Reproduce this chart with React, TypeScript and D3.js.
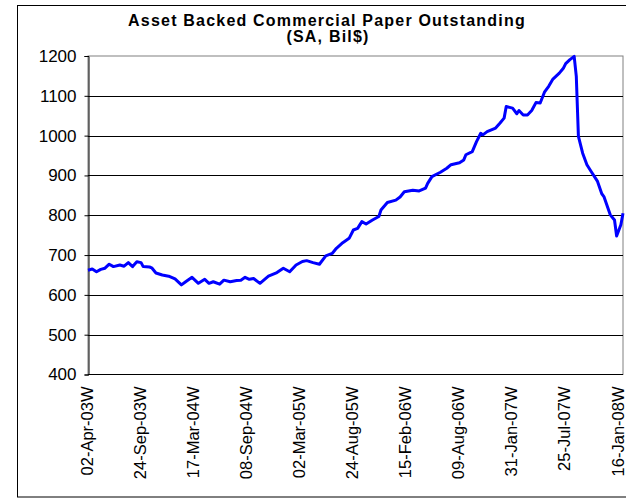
import React, { useEffect, useRef } from "react";
import * as d3 from "d3";

// weekly series, week index counted from 02-Apr-03
const weeks = [
  0, 2, 4, 6, 8, 10, 12, 15, 17, 19, 21, 23, 25, 26, 29, 30, 32, 35, 38, 41, 44, 46, 49, 52, 55, 57,
  59, 62, 64, 67, 70, 72, 74, 76, 78, 81, 85, 89, 92, 95, 98, 101, 103, 106, 109, 112, 115, 117, 120,
  123, 125, 127, 129, 131, 134, 137, 138, 141, 145, 147, 149, 153, 156, 159, 160, 162, 166, 169, 171,
  175, 177, 178, 181, 183, 185, 186, 188, 192, 194, 196, 197, 200, 202, 203, 205, 207, 209, 211, 213,
  215, 217, 219, 222, 224, 225, 227, 229, 230, 231, 233, 235, 237, 240, 242, 243, 246, 248, 249, 251,
  252,
];
const outstanding = [
  662, 665, 658, 664, 667, 677, 671, 675, 672, 681, 671, 683, 681, 671, 670, 668, 655, 650, 647, 640,
  625, 633, 644, 629, 639, 629, 633, 627, 637, 633, 636, 637, 644, 639, 641, 629, 647, 656, 667, 658,
  675, 684, 686, 681, 677, 698, 704, 717, 731, 742, 763, 767, 784, 778, 788, 797, 813, 832, 838, 846,
  859, 863, 861, 868, 880, 897, 908, 918, 927, 932, 939, 952, 960, 985, 1006, 1002, 1010, 1019, 1031,
  1044, 1073, 1069, 1055, 1063, 1052, 1052, 1063, 1083, 1082, 1109, 1124, 1142, 1157, 1170, 1181,
  1191, 1199, 1149, 998, 956, 927, 910, 885, 854, 847, 801, 788, 748, 776, 805,
];
const tickWeeks = [0, 25, 50, 75, 100, 125, 150, 175, 200, 225, 250];
const tickLabels = [
  "02-Apr-03W", "24-Sep-03W", "17-Mar-04W", "08-Sep-04W", "02-Mar-05W", "24-Aug-05W",
  "15-Feb-06W", "09-Aug-06W", "31-Jan-07W", "25-Jul-07W", "16-Jan-08W",
];
const yTicks = [400, 500, 600, 700, 800, 900, 1000, 1100, 1200];

const App = () => {
  const ref = useRef<SVGSVGElement>(null);

  useEffect(() => {
    const svg = d3.select(ref.current);
    svg.selectAll("*").remove();
    const font = "'Liberation Sans', Arial, sans-serif";

    // outer chart border
    svg.append("rect").attr("x", 17.5).attr("y", 5.5).attr("width", 620).attr("height", 491.5)
      .attr("fill", "#fff").attr("stroke", "#000");

    const left = 88, top = 56, right = 623, bottom = 374.5;
    const x = d3.scaleLinear().domain([0, 252]).range([left, right]);
    const y = d3.scaleLinear().domain([400, 1200]).range([bottom, top]);

    // plot area border
    svg.append("rect").attr("x", left).attr("y", top).attr("width", right - left).attr("height", bottom - top)
      .attr("fill", "none").attr("stroke", "#808080");

    svg.append("g").selectAll("line").data(yTicks.slice(1, -1)).join("line")
      .attr("x1", left).attr("x2", right)
      .attr("y1", (d) => Math.round(y(d)) + 0.5).attr("y2", (d) => Math.round(y(d)) + 0.5)
      .attr("stroke", "#000");

    // y axis
    const yAxis = svg.append("g").attr("transform", `translate(${left + 0.5},0)`)
      .call(d3.axisLeft(y).tickValues(yTicks).tickFormat(d3.format("d")).tickSize(4).tickPadding(8));
    yAxis.select(".domain").attr("stroke", "#000");
    yAxis.selectAll("text").attr("font-family", font).attr("font-size", 17).attr("fill", "#000");

    // x axis
    svg.append("line").attr("x1", left).attr("x2", right).attr("y1", bottom).attr("y2", bottom).attr("stroke", "#000");
    svg.append("g").selectAll("text").data(tickWeeks).join("text")
      .attr("transform", (d) => `translate(${x(d) - 1},${bottom + 12}) rotate(-90)`)
      .attr("text-anchor", "end").attr("dy", "0.35em")
      .attr("font-family", font).attr("font-size", 16.5)
      .text((d, i) => tickLabels[i]);

    // series
    const pts = weeks.map((w, i) => [w, outstanding[i]] as [number, number]);
    svg.append("path").datum(pts)
      .attr("d", d3.line<[number, number]>().x((d) => x(d[0])).y((d) => y(d[1])))
      .attr("fill", "none").attr("stroke", "#0000ff").attr("stroke-width", 3)
      .attr("stroke-linejoin", "round");

    const title = svg.append("text").attr("text-anchor", "middle").attr("font-family", font)
      .attr("font-weight", "bold").attr("font-size", 16).attr("letter-spacing", 1.2);
    title.append("tspan").attr("x", 327).attr("y", 26).text("Asset Backed Commercial Paper Outstanding");
    title.append("tspan").attr("x", 328).attr("y", 41.5).text("(SA, Bil$)");
  }, []);

  return (
    <svg ref={ref} width={626} height={498} style={{ position: "absolute", left: 0, top: 0 }} />
  );
};

export default App;
